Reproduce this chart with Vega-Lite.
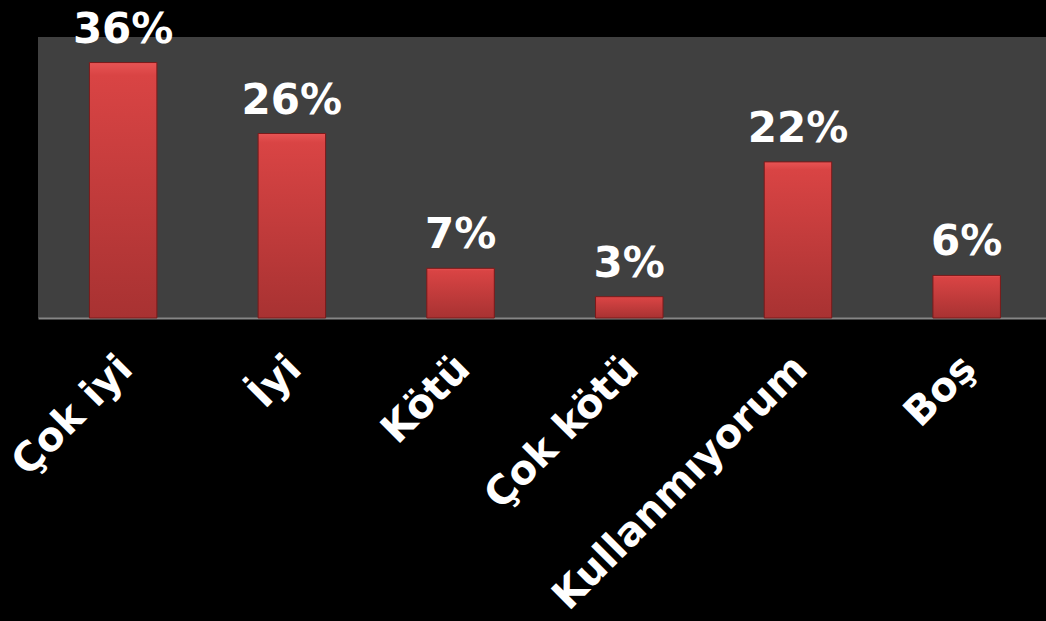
{
  "$schema": "https://vega.github.io/schema/vega-lite/v6.json",
  "width": 1008,
  "height": 281,
  "autosize": {"type": "none"},
  "padding": {"left": 38, "top": 37, "right": 0, "bottom": 303},
  "background": "#000000",
  "config": {
    "view": {"fill": "#404040", "stroke": null},
    "font": "DejaVu Sans"
  },
  "data": {
    "values": [
      {"category": "Çok iyi", "value": 0.36},
      {"category": "İyi", "value": 0.26},
      {"category": "Kötü", "value": 0.07},
      {"category": "Çok kötü", "value": 0.03},
      {"category": "Kullanmıyorum", "value": 0.22},
      {"category": "Boş", "value": 0.06}
    ]
  },
  "encoding": {
    "x": {
      "field": "category",
      "type": "nominal",
      "sort": null,
      "scale": {"paddingInner": 0.6, "paddingOuter": 0.2875, "align": 0.53},
      "axis": {
        "title": null,
        "labelAngle": -45,
        "labelAlign": "right",
        "labelBaseline": "middle",
        "labelColor": "#ffffff",
        "labelFont": "DejaVu Sans",
        "labelFontWeight": "bold",
        "labelFontSize": 40,
        "labelPadding": 44,
        "labelOffset": 3,
        "labelLimit": 0,
        "labelOverlap": false,
        "ticks": false,
        "domainColor": "#868686",
        "domainWidth": 2,
        "grid": false
      }
    },
    "y": {
      "field": "value",
      "type": "quantitative",
      "scale": {"domain": [0, 0.396], "nice": false},
      "axis": null
    }
  },
  "layer": [
    {
      "mark": {
        "type": "bar",
        "stroke": "#7a1a1a",
        "strokeWidth": 1,
        "color": {
          "gradient": "linear",
          "x1": 0, "y1": 0, "x2": 0, "y2": 1,
          "stops": [
            {"offset": 0, "color": "#e85454"},
            {"offset": 0.05, "color": "#d94444"},
            {"offset": 1, "color": "#a83232"}
          ]
        }
      }
    },
    {
      "mark": {
        "type": "text",
        "dy": -20,
        "baseline": "alphabetic",
        "color": "#ffffff",
        "font": "DejaVu Sans",
        "fontWeight": "bold",
        "fontSize": 42
      },
      "encoding": {
        "text": {"field": "value", "type": "quantitative", "format": ".0%"}
      }
    }
  ]
}
